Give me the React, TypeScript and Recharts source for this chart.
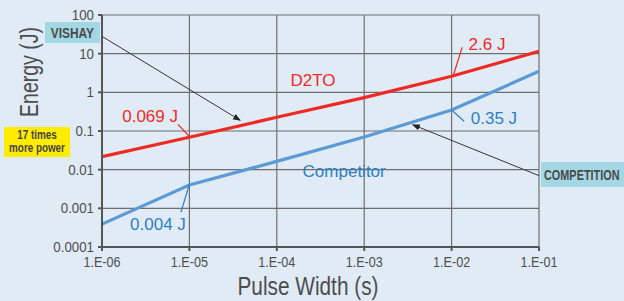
import { LineChart, Line, XAxis, YAxis, CartesianGrid, ReferenceLine, ReferenceDot } from 'recharts';

const xTicks = [1e-6, 1e-5, 1e-4, 1e-3, 1e-2, 1e-1];
const xTickLabels = ['1.E-06', '1.E-05', '1.E-04', '1.E-03', '1.E-02', '1.E-01'];
const yTicks = [0.0001, 0.001, 0.01, 0.1, 1, 10, 100];
const yTickLabels = ['0.0001', '0.001', '0.01', '0.1', '1', '10', '100'];

const d2toWidth = [1e-6, 1e-5, 1e-4, 1e-3, 1e-2, 1e-1];
const d2toEnergy = [0.0217, 0.069, 0.226, 0.73, 2.6, 11.5];
const compWidth = [1e-6, 1e-5, 1e-4, 1e-3, 1e-2, 1e-1];
const compEnergy = [0.00039, 0.004, 0.0164, 0.07, 0.35, 3.5];

const d2toData = d2toWidth.map((w, i) => ({ w, e: d2toEnergy[i] }));
const compData = compWidth.map((w, i) => ({ w, e: compEnergy[i] }));

// value callouts: text, label position, leader start, leader end
const callouts = [
  { text: '0.069 J', color: '#ee2a24', at: [3.55e-6, 0.25], from: [7.4e-6, 0.149], to: [1e-5, 0.072] },
  { text: '2.6 J', color: '#ee2a24', at: [0.0254, 17.4], from: [0.0132, 14.5], to: [1.05e-2, 2.8] },
  { text: '0.35 J', color: '#2f7fc4', at: [0.0305, 0.213], from: [0.0139, 0.178], to: [1e-2, 0.35] },
  { text: '0.004 J', color: '#2f7fc4', at: [4.37e-6, 0.00039], from: [8.0e-6, 0.00079], to: [1e-5, 0.0042] },
];
const seriesNames = [
  { text: 'D2TO', color: '#ee2a24', at: [2.6e-4, 2.04] },
  { text: 'Competitor', color: '#2f7fc4', at: [5.9e-4, 0.0094] },
];
const arrows = [
  { from: [1e-6, 28], to: [3.8e-5, 0.19] },
  { from: [0.1, 0.007], to: [3.6e-3, 0.145] },
];

const sans = '"Liberation Sans", Arial, sans-serif';

const labelFor = (ticks: number[], labels: string[], v: number) =>
  labels[ticks.findIndex((t) => Math.abs(t - v) / t < 1e-6)] ?? '';

const XTick = (props: any) => {
  const { x, y, payload } = props;
  return (
    <text transform={`translate(${x},${y + 14}) scale(0.9,1)`} textAnchor="middle" fill="#4d4d4d" fontSize={14} fontFamily={sans}>
      {labelFor(xTicks, xTickLabels, payload.value)}
    </text>
  );
};

const YTick = (props: any) => {
  const { x, y, payload } = props;
  return (
    <text transform={`translate(${x - 2},${y + 5}) scale(0.95,1)`} textAnchor="end" fill="#4d4d4d" fontSize={14} fontFamily={sans}>
      {labelFor(yTicks, yTickLabels, payload.value)}
    </text>
  );
};

const boxText = { display: 'inline-block', transform: 'scaleX(0.82)', whiteSpace: 'nowrap' } as const;

const App = () => {
  return (
    <div style={{ position: 'relative', width: 624, height: 301, background: '#e1ebf6', fontFamily: sans, overflow: 'hidden' }}>
      <style>{`body{margin:0}`}</style>
      <svg width={0} height={0} style={{ position: 'absolute' }}>
        <defs>
          <marker id="arrowHead" markerWidth={8} markerHeight={8} refX={7} refY={4} orient="auto" markerUnits="userSpaceOnUse">
            <path d="M0,1 L8,4 L0,7 Z" fill="#222" />
          </marker>
        </defs>
      </svg>
      <LineChart width={624} height={301} margin={{ top: 15, right: 85, bottom: 24, left: 42 }}>
        <CartesianGrid stroke="#6e6e6e" strokeWidth={1.2} />
        <XAxis
          dataKey="w"
          type="number"
          scale="log"
          domain={[1e-6, 1e-1]}
          ticks={xTicks}
          allowDataOverflow
          height={30}
          stroke="#555"
          strokeWidth={2}
          tickSize={4}
          tick={<XTick />}
        />
        <YAxis
          dataKey="e"
          type="number"
          scale="log"
          domain={[0.0001, 100]}
          ticks={yTicks}
          allowDataOverflow
          width={60}
          stroke="#555"
          strokeWidth={2}
          tickSize={4}
          tick={<YTick />}
        />
        <Line data={d2toData} dataKey="e" stroke="#ee2a24" strokeWidth={3.2} dot={false} isAnimationActive={false} />
        <Line data={compData} dataKey="e" stroke="#5b9bd5" strokeWidth={3.2} dot={false} isAnimationActive={false} />
        {arrows.map((a, i) => (
          <ReferenceLine
            key={`arrow-${i}`}
            segment={[{ x: a.from[0], y: a.from[1] }, { x: a.to[0], y: a.to[1] }]}
            stroke="#333"
            strokeWidth={1}
            ifOverflow="visible"
            markerEnd="url(#arrowHead)"
          />
        ))}
        {callouts.map((c, i) => (
          <ReferenceLine
            key={`lead-${i}`}
            segment={[{ x: c.from[0], y: c.from[1] }, { x: c.to[0], y: c.to[1] }]}
            stroke={c.color}
            strokeWidth={1.2}
            ifOverflow="visible"
          />
        ))}
        {callouts.map((c, i) => (
          <ReferenceDot
            key={`call-${i}`}
            x={c.at[0]}
            y={c.at[1]}
            r={0}
            ifOverflow="visible"
            label={{ value: c.text, position: 'center', fill: c.color, fontSize: 17, fontFamily: sans }}
          />
        ))}
        {seriesNames.map((s, i) => (
          <ReferenceDot
            key={`name-${i}`}
            x={s.at[0]}
            y={s.at[1]}
            r={0}
            ifOverflow="visible"
            label={{ value: s.text, position: 'center', fill: s.color, fontSize: 17, fontFamily: sans }}
          />
        ))}
      </LineChart>
      <div
        style={{
          position: 'absolute', left: 29, top: 72, transform: 'translate(-50%, -50%) rotate(-90deg) scaleX(0.75)',
          whiteSpace: 'nowrap', fontSize: 26, color: '#4d4d4d',
        }}
      >
        Energy (J)
      </div>
      <div
        style={{
          position: 'absolute', left: 308, top: 286, transform: 'translate(-50%, -50%) scaleX(0.8)',
          whiteSpace: 'nowrap', fontSize: 26, color: '#4d4d4d',
        }}
      >
        Pulse Width (s)
      </div>
      <div
        style={{
          position: 'absolute', left: 45, top: 22, width: 55, height: 21, background: '#a4d7e4',
          color: '#4a4a4a', fontWeight: 'bold', fontSize: 14.5,
          display: 'flex', alignItems: 'center', justifyContent: 'center',
        }}
      >
        <span style={boxText}>VISHAY</span>
      </div>
      <div
        style={{
          position: 'absolute', left: 541, top: 162, width: 83, height: 25, background: '#a4d7e4',
          color: '#4a4a4a', fontWeight: 'bold', fontSize: 14.5,
          display: 'flex', alignItems: 'center', whiteSpace: 'nowrap',
        }}
      >
        <span style={{ ...boxText, transform: 'scaleX(0.75)', transformOrigin: 'left center', marginLeft: 3 }}>COMPETITION</span>
      </div>
      <div
        style={{
          position: 'absolute', left: 4, top: 127, width: 66, height: 30, background: '#ffec00',
          color: '#444', fontWeight: 'bold', fontSize: 12, lineHeight: '13px',
          display: 'flex', flexDirection: 'column', alignItems: 'center', justifyContent: 'center', textAlign: 'center',
        }}
      >
        <span style={boxText}>17 times</span>
        <span style={boxText}>more power</span>
      </div>
    </div>
  );
};

export default App;
